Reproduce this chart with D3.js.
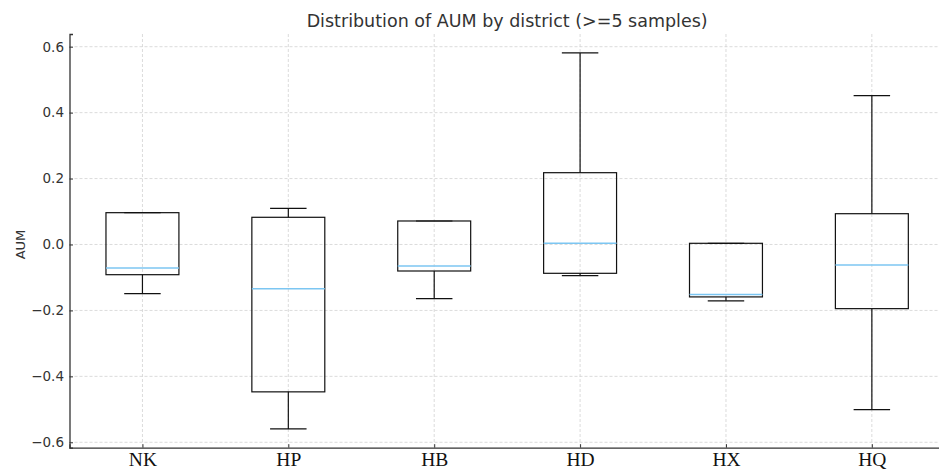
<!DOCTYPE html>
<html>
<head>
<meta charset="utf-8">
<script src="https://cdn.jsdelivr.net/npm/d3@7"></script>
<style>
  html, body { margin: 0; padding: 0; background: #fff; }
  svg { display: block; }
</style>
</head>
<body>
<svg id="chart" width="939" height="471"></svg>
<script>
// Box-plot summary per district
const districts = ["NK", "HP", "HB", "HD", "HX", "HQ"];
const whiskerLow  = [-0.149, -0.5596, -0.1644, -0.0946, -0.171, -0.501];
const q1Values    = [-0.0916, -0.447, -0.0804, -0.0874, -0.159, -0.1946];
const medians     = [-0.0713, -0.134, -0.0652, 0.0036, -0.152, -0.062];
const q3Values    = [0.0965, 0.0825, 0.0713, 0.2178, 0.0036, 0.0934];
const whiskerHigh = [0.0965, 0.1098, 0.0713, 0.581, 0.0036, 0.4513];
const yTicks = [-0.6, -0.4, -0.2, 0.0, 0.2, 0.4, 0.6];

const svg = d3.select("#chart");
const plotLeft = 69.5, plotRight = 944.8, plotTop = 34, plotBottom = 447.7;

const x = d3.scaleLinear().domain([0.5, 6.5]).range([plotLeft, plotRight]);
const y = d3.scaleLinear().domain([-0.6164, 0.6385]).range([plotBottom, plotTop]);

const boxW = 0.5, capW = 0.25;

// grid
const grid = svg.append("g").attr("stroke", "#d2d2d2").attr("stroke-width", 0.8)
  .attr("stroke-dasharray", "3,2");
grid.selectAll("line.h").data(yTicks).join("line").attr("class", "h")
  .attr("x1", plotLeft).attr("x2", plotRight)
  .attr("y1", d => y(d)).attr("y2", d => y(d));
grid.selectAll("line.v").data(districts.map((d, i) => i + 1)).join("line").attr("class", "v")
  .attr("y1", plotTop).attr("y2", plotBottom)
  .attr("x1", d => x(d)).attr("x2", d => x(d));

// boxes
const data = districts.map((name, i) => ({
  pos: i + 1, lo: whiskerLow[i], q1: q1Values[i], med: medians[i], q3: q3Values[i], hi: whiskerHigh[i]
}));
const g = svg.append("g");
const boxes = g.selectAll("g.box").data(data).join("g").attr("class", "box");
const line = (sel, x1, y1, x2, y2, color, w) =>
  sel.append("line").attr("x1", x1).attr("y1", y1).attr("x2", x2).attr("y2", y2)
    .attr("stroke", color).attr("stroke-width", w);

boxes.each(function(d) {
  const s = d3.select(this);
  const k = "#111";
  line(s, x(d.pos), y(d.q1), x(d.pos), y(d.lo), k, 1.2);
  line(s, x(d.pos), y(d.q3), x(d.pos), y(d.hi), k, 1.2);
  line(s, x(d.pos - capW / 2), y(d.lo), x(d.pos + capW / 2), y(d.lo), k, 1.2);
  line(s, x(d.pos - capW / 2), y(d.hi), x(d.pos + capW / 2), y(d.hi), k, 1.2);
  s.append("rect")
    .attr("x", x(d.pos - boxW / 2)).attr("y", y(d.q3))
    .attr("width", x(d.pos + boxW / 2) - x(d.pos - boxW / 2))
    .attr("height", y(d.q1) - y(d.q3))
    .attr("fill", "none").attr("stroke", k).attr("stroke-width", 1.2);
  line(s, x(d.pos - boxW / 2), y(d.med), x(d.pos + boxW / 2), y(d.med), "#7cc6f2", 1.5);
});

// axes
const yAxis = d3.axisLeft(y).tickValues(yTicks).tickFormat(d3.format(".1f"))
  .tickSize(-3.5).tickPadding(5.5);
const ya = svg.append("g").attr("transform", `translate(${plotLeft},0)`).call(yAxis);
ya.select(".domain").attr("stroke", "#333").attr("stroke-width", 1.3);
ya.selectAll(".tick line").attr("stroke", "#333");
ya.selectAll(".tick text").attr("fill", "#333")
  .style("font-family", "'DejaVu Sans', sans-serif").style("font-size", "13.5px");

const xAxis = d3.axisBottom(x).tickValues(districts.map((d, i) => i + 1))
  .tickFormat((d, i) => districts[i]).tickSize(-3.5);
const xa = svg.append("g").attr("transform", `translate(0,${plotBottom})`).call(xAxis);
xa.select(".domain").attr("stroke", "#333").attr("stroke-width", 1.3);
xa.selectAll(".tick line").attr("stroke", "#333");
xa.selectAll(".tick text").attr("fill", "#111").attr("y", 18.5).attr("dy", 0)
  .style("font-family", "'Liberation Serif', 'Times New Roman', serif").style("font-size", "19.5px");

// labels
svg.append("text").attr("x", (plotLeft + plotRight) / 2).attr("y", 27)
  .attr("text-anchor", "middle").attr("fill", "#333")
  .style("font-family", "'DejaVu Sans', sans-serif").style("font-size", "17.5px")
  .text("Distribution of AUM by district (>=5 samples)");
svg.append("text").attr("transform", `translate(25,${y(0)}) rotate(-90)`)
  .attr("text-anchor", "middle").attr("fill", "#333")
  .style("font-family", "'DejaVu Sans', sans-serif").style("font-size", "13px")
  .text("AUM");
</script>
</body>
</html>
